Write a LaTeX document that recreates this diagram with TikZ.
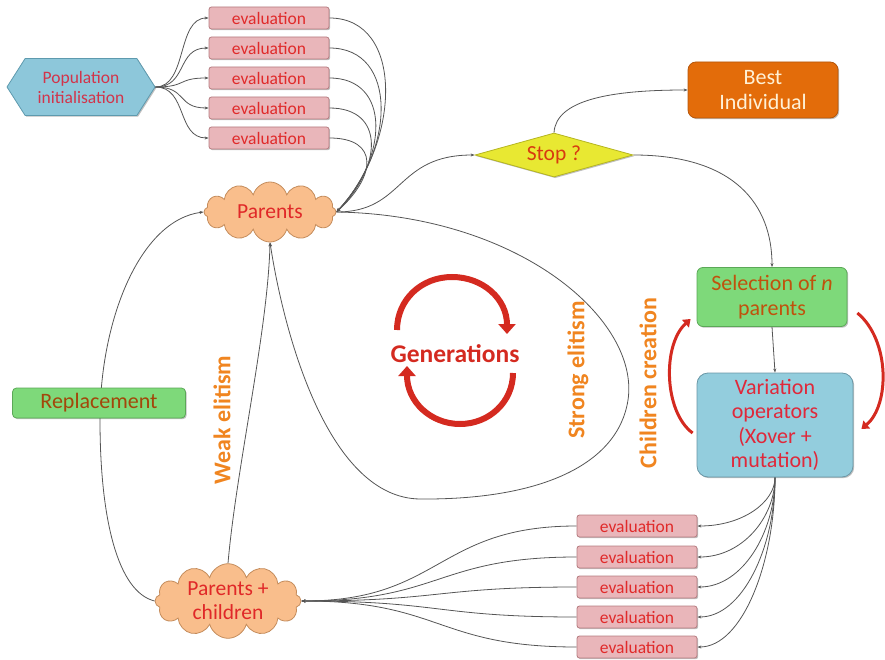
\documentclass[tikz,border=0pt]{standalone}
\usepackage{fontspec}
\setmainfont{Carlito}
\usetikzlibrary{shapes.geometric,shapes.symbols,arrows.meta,calc,shadows}
\definecolor{linegray}{HTML}{555555}
\definecolor{evfill}{HTML}{E9B6BA}
\definecolor{evdraw}{HTML}{B57C80}
\definecolor{evtext}{HTML}{E02A2A}
\definecolor{popfill}{HTML}{8DC7DA}
\definecolor{popdraw}{HTML}{5E9AAE}
\definecolor{poptext}{HTML}{D2344A}
\definecolor{cloudfill}{HTML}{F9BE8C}
\definecolor{clouddraw}{HTML}{C48C5C}
\definecolor{cloudtext}{HTML}{E02828}
\definecolor{stopfill}{HTML}{E8E832}
\definecolor{stopdraw}{HTML}{B5B520}
\definecolor{stoptext}{HTML}{D83A10}
\definecolor{bestfill}{HTML}{E36C0A}
\definecolor{bestdraw}{HTML}{B5560A}
\definecolor{besttext}{HTML}{FFF1D6}
\definecolor{greenfill}{HTML}{7ED97A}
\definecolor{greendraw}{HTML}{5BA857}
\definecolor{seltext}{HTML}{C0520C}
\definecolor{varfill}{HTML}{93CDDD}
\definecolor{vardraw}{HTML}{6A97A6}
\definecolor{vartext}{HTML}{E0283A}
\definecolor{elitorange}{HTML}{F08520}
\definecolor{genred}{HTML}{D42A20}
\pgfdeclarelayer{background}
\pgfsetlayers{background,main}
\begin{document}
\begin{tikzpicture}[x=1pt,y=-1pt,
  shad/.style={drop shadow={shadow xshift=1.2pt,shadow yshift=-1.2pt,fill=black,opacity=0.25}},
  evalbox/.style={shad,draw=evdraw,fill=evfill,line width=0.8pt,rounded corners=2.5pt,minimum width=120pt,minimum height=22pt,inner sep=0pt,text=evtext,font=\fontsize{17.5}{19}\selectfont},
  cloudnode/.style={cloud,cloud puffs=12,cloud ignores aspect,draw=clouddraw,fill=cloudfill,line width=0.8pt,text=cloudtext,inner sep=0pt,align=center,font=\fontsize{21.5}{24}\selectfont},
  boxnode/.style={shad,draw,line width=0.8pt,inner sep=0pt,align=center,font=\fontsize{22}{24.5}\selectfont},
  elit/.style={rotate=90,text=elitorange,font=\bfseries\fontsize{24}{28}\selectfont,inner sep=0pt},
  conn/.style={draw=linegray,line width=0.8pt,-{Stealth[length=4pt,width=3pt]}},
  redarrow/.style={draw=genred,line width=6pt,-{Triangle[length=10pt,width=17pt]}},
  sidearrow/.style={draw=genred,line width=3pt,-{Triangle[length=7pt,width=10pt]}}]
\useasboundingbox (0,0) rectangle (885,660);

% nodes
\node[shad,signal,signal to=west and east,signal pointer angle=115,draw=popdraw,fill=popfill,line width=0.8pt,minimum width=148pt,minimum height=57pt,inner sep=0pt,align=center,text=poptext,font=\fontsize{17.5}{20}\selectfont] (pop) at (81,87) {Population\\initialisation};
\foreach \i/\y in {1/18,2/48,3/78,4/108,5/138}
  \node[evalbox] (t\i) at (269,\y) {evaluation};
\node[cloudnode,minimum width=132pt,minimum height=60pt] (par) at (270,212) {Parents};
\node[shad,diamond,aspect=3.6,draw=stopdraw,fill=stopfill,line width=0.8pt,minimum width=158pt,minimum height=44pt,inner sep=0pt,text=stoptext,font=\fontsize{21.5}{24}\selectfont] (stop) at (554,155) {Stop ?};
\node[boxnode,draw=bestdraw,fill=bestfill,text=besttext,rounded corners=8pt,minimum width=150pt,minimum height=56pt] (best) at (763,90) {Best\\Individual};
\node[boxnode,draw=greendraw,fill=greenfill,text=seltext,rounded corners=6pt,minimum width=150pt,minimum height=59pt] (sel) at (772,297) {Selection of \textit{n}\\parents};
\node[boxnode,draw=vardraw,fill=varfill,text=vartext,rounded corners=11pt,minimum width=156pt,minimum height=104pt] (var) at (775,425) {Variation\\operators\\(Xover +\\mutation)};
\foreach \i/\y in {1/526,2/557,3/587,4/617,5/647}
  \node[evalbox] (b\i) at (637,\y) {evaluation};
\node[cloudnode,minimum width=146pt,minimum height=70pt] (pc) at (228,601) {Parents +\\children};
\node[boxnode,draw=greendraw,fill=greenfill,text=seltext!85!black,rounded corners=4pt,minimum width=173pt,minimum height=30pt] (rep) at (99,403) {Replacement};
\node[elit] (weak) at (222,420) {Weak elitism};
\node[elit] (strong) at (578,370) {Strong elitism};
\node[elit] (child) at (648,383) {Children creation};
\node[text=genred,font=\bfseries\fontsize{25.5}{28}\selectfont,inner sep=0pt] (gen) at (455,354) {Generations};

\begin{pgfonlayer}{background}
% population to evaluations
\foreach \i in {1,...,5}
  \draw[conn] (pop.east) .. controls +(32,0) and +(-32,0) .. (t\i.west);
% evaluations to parents
\foreach \i/\b/\c/\d in {1/75/65/70,2/69/59/62,3/62/52/54,4/56/46/45,5/50/40/36}
  \draw[conn] (t\i.east) .. controls +(\b,0) and ($(par.east)+(\c,-\d)$) .. (par.east);
% parents to stop
\draw[conn] (par.east) .. controls (405,212) and (395,155) .. (stop.west);
% stop to best
\draw[conn] (stop.north) .. controls (556,100) and (610,90) .. (best.west);
% stop to selection
\draw[conn] (stop.east) .. controls (735,155) and (772,205) .. (sel.north);
% selection to variation
\draw[conn] (sel.south) -- (var.north);
% variation to bottom evaluations
\foreach \i/\k in {1/25,2/40,3/55,4/70,5/85}
  \draw[conn] (var.south) .. controls +(0,\k) and +(45,0) .. (b\i.east);
% bottom evaluations to parents+children
\foreach \i in {1,...,5}
  \draw[conn] (b\i.west) .. controls +(-140,0) and +(140,0) .. (pc.east);
% replacement
\draw[conn] (pc.west) .. controls (118,592) and (100,520) .. (100,420) .. controls (100,320) and (140,220) .. (par.west);
% weak elitism
\draw[conn] (pc.north) .. controls (236,470) and (268,330) .. (par.south);
% strong elitism
\draw[conn] (par.east) .. controls (520,215) and (640,320) .. (628,400) .. controls (618,465) and (540,500) .. (420,499) .. controls (330,498) and (285,340) .. (par.south);
\end{pgfonlayer}

% generations arrows
\draw[redarrow] (397,330) .. controls (397,300) and (421,277) .. (452,277) .. controls (483,277) and (507,299) .. (507,334);
\draw[redarrow] (513,373) .. controls (513,402) and (489,424) .. (460,424) .. controls (431,424) and (407,402) .. (407,366);
% children creation side arrows
\draw[sidearrow] ($(var.west)+(-4,8)$) .. controls (664,412) and (662,345) .. ($(sel.west)+(-6,22)$);
\draw[sidearrow] ($(sel.east)+(10,16)$) .. controls (890,340) and (890,405) .. ($(var.east)+(8,4)$);
\end{tikzpicture}
\end{document}
